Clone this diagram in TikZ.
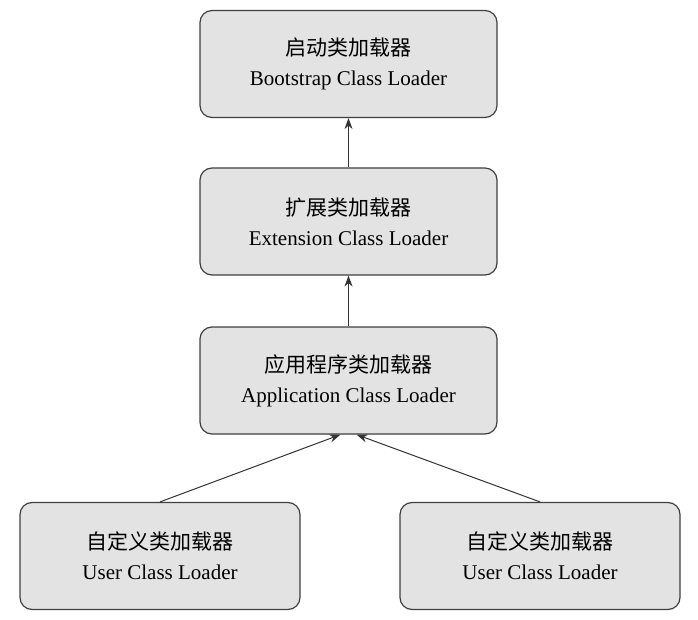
\documentclass[tikz,border=0pt]{standalone}
\usepackage{fontspec}
\setmainfont{Liberation Serif}
\newfontfamily\cjk{Noto Sans CJK SC}
\usetikzlibrary{arrows.meta}
\begin{document}
\begin{tikzpicture}[x=1pt,y=-1pt,
  box/.style={draw=black!75,line width=1.2pt,fill=black!11,rounded corners=12pt,minimum width=297pt,minimum height=107pt,align=center,font=\fontsize{21}{30}\selectfont},
  sbox/.style={box,minimum width=280pt},
  arr/.style={-{Stealth[length=11pt,width=8pt]},line width=1pt,black!80}]
\useasboundingbox (0,0) rectangle (698,620);
\node[box] (b1) at (348.5,64) {{\cjk 启动类加载器}\\Bootstrap Class Loader};
\node[box] (b2) at (348.5,221.5) {{\cjk 扩展类加载器}\\Extension Class Loader};
\node[box] (b3) at (348.5,380.5) {{\cjk 应用程序类加载器}\\Application Class Loader};
\node[sbox] (b4) at (160,556) {{\cjk 自定义类加载器}\\User Class Loader};
\node[sbox] (b5) at (540,556) {{\cjk 自定义类加载器}\\User Class Loader};
\draw[arr] (b2.north) -- (b1.south);
\draw[arr] (b3.north) -- (b2.south);
\draw[arr] (b4.north) -- ([xshift=-8pt]b3.south);
\draw[arr] (b5.north) -- ([xshift=8pt]b3.south);
\end{tikzpicture}
\end{document}
